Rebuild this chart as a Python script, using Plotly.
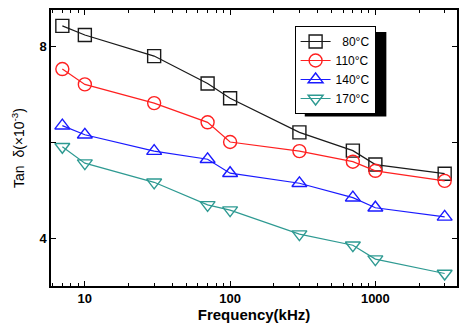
import plotly.graph_objects as go

freq = [7, 10, 30, 70, 100, 300, 700, 1000, 3000]
tan80 = [8.42, 8.23, 7.79, 7.22, 6.91, 6.20, 5.82, 5.53, 5.34]
tan110 = [7.52, 7.20, 6.81, 6.41, 6.00, 5.81, 5.59, 5.40, 5.19]
tan140 = [6.34, 6.15, 5.81, 5.64, 5.35, 5.14, 4.84, 4.63, 4.44]
tan170 = [5.90, 5.56, 5.16, 4.69, 4.58, 4.08, 3.85, 3.56, 3.26]
labels = ["  80°C", "110°C", "140°C", "170°C"]
colors = ["#1a1a1a", "#ff2020", "#1a1aff", "#2e9a92"]
symbols = ["square-open", "circle-open", "triangle-up-open", "triangle-down-open"]
series = [tan80, tan110, tan140, tan170]

fig = go.Figure()
for y, lab, c, s in zip(series, labels, colors, symbols):
    fig.add_trace(go.Scatter(
        x=freq, y=y, name=lab, mode="lines+markers",
        line=dict(color=c, width=1.2),
        marker=dict(symbol=s, size=13, color=c, line=dict(color=c, width=1.4)),
    ))

axis_common = dict(showline=True, linecolor="black", linewidth=1.5, mirror="ticks",
                   ticks="inside", tickcolor="black", showgrid=False, zeroline=False)

fig.update_xaxes(type="log", range=[0.767, 3.562], tickvals=[10, 100, 1000],
                 ticktext=["10", "100", "1000"], ticklen=5,
                 minor=dict(ticks="inside", ticklen=3, tickcolor="black",
                            tickvals=[6, 7, 8, 9, 20, 30, 40, 50, 60, 70, 80, 90,
                                      200, 300, 400, 500, 600, 700, 800, 900, 2000, 3000]),
                 tickfont=dict(family="Liberation Sans", size=13, color="black", weight="bold"),
                 title=dict(text="Frequency(kHz)", standoff=5,
                            font=dict(family="Liberation Sans", size=15, color="black", weight="bold")),
                 **axis_common)
fig.update_yaxes(range=[3.0, 8.75], tickvals=[4, 8], ticktext=["4", "8"], ticklen=5,
                 minor=dict(ticks="inside", ticklen=5, tickcolor="black", tickvals=[6]),
                 tickfont=dict(family="Liberation Sans", size=13, color="black", weight="bold"),
                 title=dict(text="Tan  δ(×10<sup>-3</sup>)", standoff=12,
                            font=dict(family="Liberation Sans", size=14, color="black")),
                 **axis_common)

# legend shadow (legend box ~299..382 px wide, 26..111 px tall; shadow offset 4 px)
fig.add_shape(type="rect", xref="paper", yref="paper",
              x0=0.625, x1=0.826, y0=0.614, y1=0.92,
              fillcolor="black", line=dict(width=0), layer="above")

fig.update_layout(
    width=460, height=323,
    margin=dict(l=51, r=1, t=10, b=37),
    paper_bgcolor="white", plot_bgcolor="white",
    showlegend=True,
    legend=dict(x=0.6, y=0.942, xanchor="left", yanchor="top",
                bgcolor="white", bordercolor="black", borderwidth=1,
                font=dict(family="Liberation Sans", size=12, color="black"),
                tracegroupgap=0, itemwidth=30, itemsizing="trace"),
)
fig.write_html("out.html")
